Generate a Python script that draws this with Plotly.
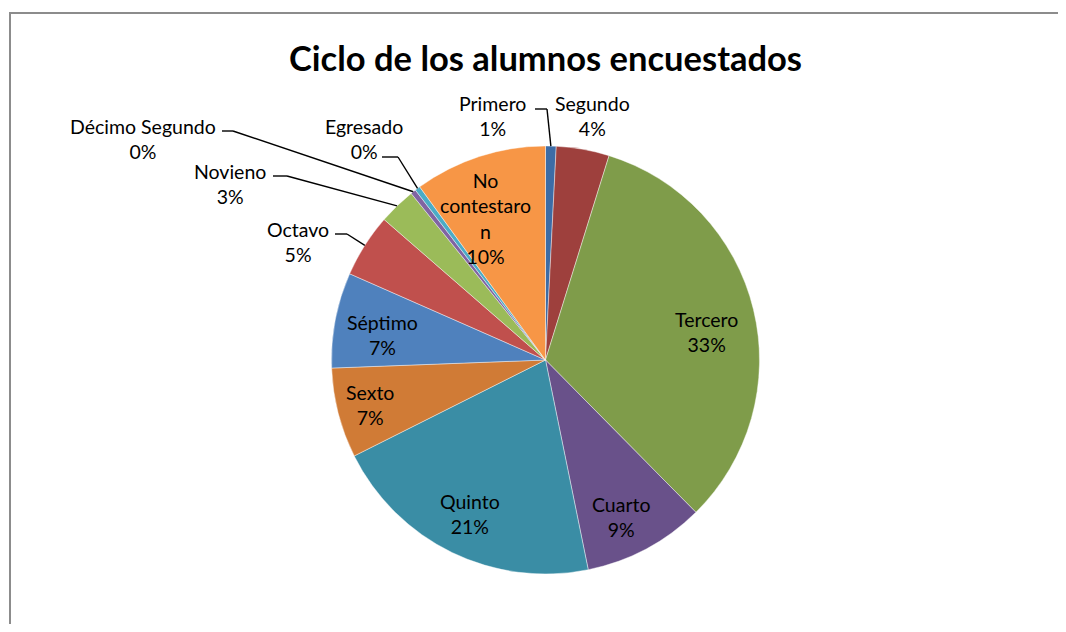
import math
import plotly.graph_objects as go

# ---------------- data ----------------
categories = ["Primero", "Segundo", "Tercero", "Cuarto", "Quinto", "Sexto",
              "Séptimo", "Octavo", "Novieno", "Décimo Segundo", "Egresado",
              "No contestaron"]
values = [2, 10, 82, 23, 52, 17, 18, 12, 7, 1, 1, 25]
title_text = "Ciclo de los alumnos encuestados"

# ---------------- styles ----------------
colors = ["#3D6CA6", "#9E403D", "#7F9C4A", "#69518A", "#3A8DA5", "#D07B36",
          "#4F81BD", "#C0504D", "#9BBB59", "#8064A2", "#4BACC6", "#F79646"]
display_names = {"No contestaron": "No<br>contestaro<br>n"}

PAGE_W, PAGE_H = 1066, 632
OFF = 8  # default page body margin
W, H = PAGE_W - 2 * OFF, PAGE_H - 2 * OFF
cx, cy, R = 545.5, 360, 214
FONT = "Lato"


def px(x):
    return (x - OFF) / W


def py(y):
    return 1 - (y - OFF) / H


# label block centres (page pixels) and leader start/elbow for outside labels
label_pos = {
    "Primero": (492, 116), "Segundo": (592, 116), "Tercero": (706, 332),
    "Cuarto": (621, 517), "Quinto": (470, 514), "Sexto": (370, 405),
    "Séptimo": (382, 335), "Octavo": (298, 242), "Novieno": (230, 184),
    "Décimo Segundo": (143, 139), "Egresado": (364, 139),
    "No contestaron": (485, 219),
}
leaders = {
    "Primero": [(535, 109), (547, 109)],
    "Décimo Segundo": [(222, 131), (233, 131)],
    "Egresado": [(382, 157), (398, 157)],
    "Novieno": [(273, 176), (287, 176)],
    "Octavo": [(335, 234), (347, 234)],
}

fig = go.Figure(go.Pie(
    labels=categories, values=values, sort=False, direction="clockwise",
    rotation=0, textinfo="none", hoverinfo="label+percent", showlegend=False,
    marker=dict(colors=colors, line=dict(color="rgba(255,255,255,0.7)", width=0.6)),
    domain=dict(x=[px(cx - R), px(cx + R)], y=[py(cy + R), py(cy - R)]),
))

total = sum(values)
annotations = []
shapes = []
cum = 0
for cat, v in zip(categories, values):
    mid = (cum + v / 2) / total * 2 * math.pi
    cum += v
    pct = f"{round(100 * v / total)}%"
    name = display_names.get(cat, cat)
    lx, ly = label_pos[cat]
    annotations.append(dict(
        x=px(lx), y=py(ly), xref="paper", yref="paper", showarrow=False,
        text=f"{name}<br>{pct}", align="center", xanchor="center",
        yanchor="middle", font=dict(family=FONT, size=19.5, color="#000000"),
    ))
    if cat in leaders:
        ex = cx + R * math.sin(mid)
        ey = cy - R * math.cos(mid)
        pts = leaders[cat] + [(ex, ey)]
        for (x0, y0), (x1, y1) in zip(pts[:-1], pts[1:]):
            shapes.append(dict(type="line", xref="paper", yref="paper",
                               x0=px(x0), y0=py(y0), x1=px(x1), y1=py(y1),
                               line=dict(color="#000000", width=1.4),
                               layer="above"))

annotations.append(dict(
    x=px(545), y=py(57), xref="paper", yref="paper", showarrow=False,
    text=f"<b>{title_text}</b>", xanchor="center", yanchor="middle",
    font=dict(family=FONT, size=34.5, color="#000000"),
))

# chart-area border
shapes.append(dict(type="rect", xref="paper", yref="paper",
                   x0=px(10), y0=py(13), x1=px(PAGE_W + 40), y1=py(PAGE_H + 40),
                   line=dict(color="#8C8C8C", width=2), layer="below"))

fig.update_layout(
    width=W, height=H, margin=dict(l=0, r=0, t=0, b=0),
    paper_bgcolor="white", plot_bgcolor="white",
    annotations=annotations, shapes=shapes,
)

fig.write_html("out.html")
